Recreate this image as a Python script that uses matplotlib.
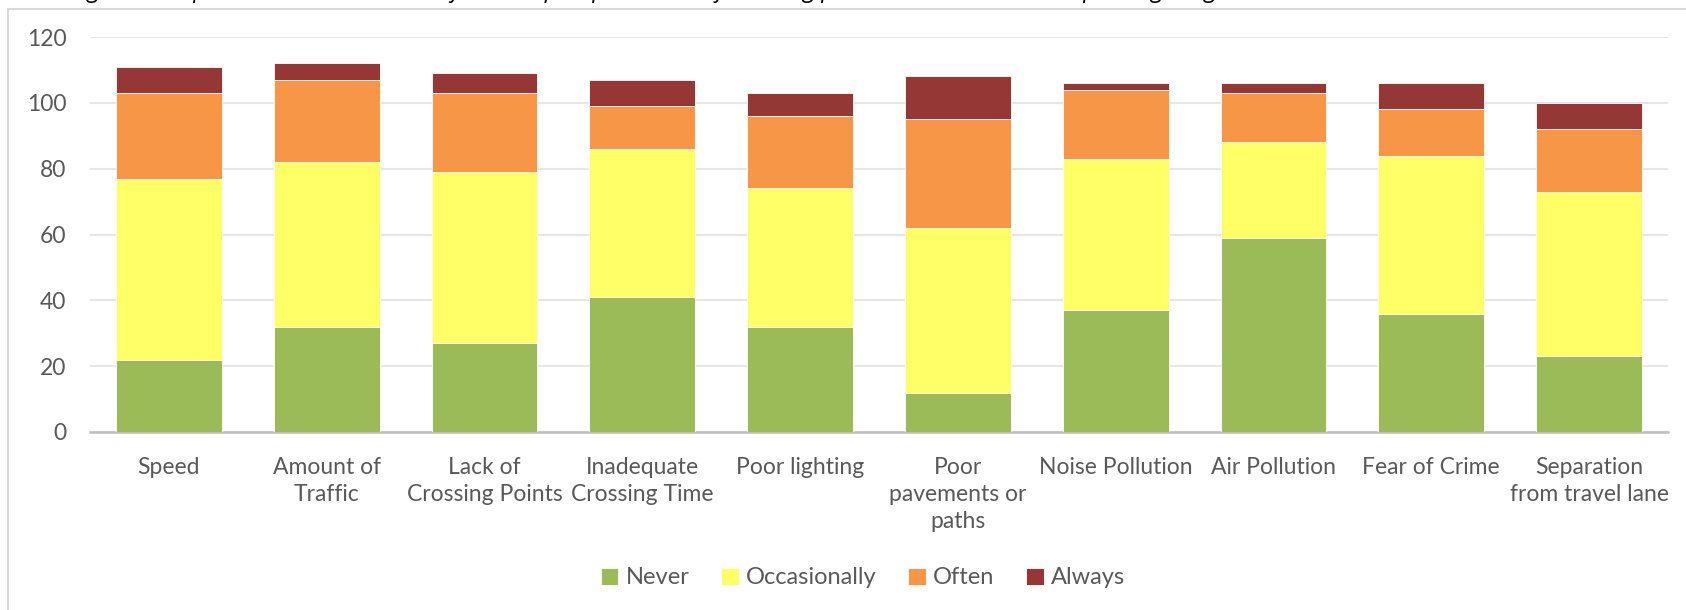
import numpy as np
import matplotlib.pyplot as plt
from matplotlib.patches import Rectangle

categories = [
    "Speed", "Amount of\nTraffic", "Lack of\nCrossing Points",
    "Inadequate\nCrossing Time", "Poor lighting", "Poor\npavements or\npaths",
    "Noise Pollution", "Air Pollution", "Fear of Crime",
    "Separation\nfrom travel lane",
]
never = [22, 32, 27, 41, 32, 12, 37, 59, 36, 23]
occasionally = [55, 50, 52, 45, 42, 50, 46, 29, 48, 50]
often = [26, 25, 24, 13, 22, 33, 21, 15, 14, 19]
always = [8, 5, 6, 8, 7, 13, 2, 3, 8, 8]

series = [
    ("Never", never, "#9BBB59"),
    ("Occasionally", occasionally, "#FFFF66"),
    ("Often", often, "#F79646"),
    ("Always", always, "#953735"),
]

plt.rcParams['font.family'] = ['Lato', 'DejaVu Sans']
grey = "#595959"

W, H = 1686, 610
fig = plt.figure(figsize=(W / 100, H / 100), dpi=100)

# outer chart frame and clipped caption above it
fig.patches.append(Rectangle((8 / W, -0.1), 1.2, 1 - 9 / H + 0.1, transform=fig.transFigure,
                             fill=False, edgecolor="#D9D9D9", linewidth=1.5))
fig.text(20 / W, 1 + 3 / H,
         "walking in other places in their locations, for example speed, lack of crossing points, "
         "air condition and poor lighting were rated",
         fontsize=17, style="italic", color="black", family="Open Sans", va="baseline")

ax = fig.add_axes([90 / W, 1 - 432 / H, 1578 / W, (432 - 37) / H])
x = np.arange(len(categories))
bottom = np.zeros(len(categories))
for name, vals, col in series:
    ax.bar(x, vals, 0.67, bottom=bottom, color=col, label=name,
           edgecolor="white", linewidth=0.6, zorder=3)
    bottom += np.array(vals)

ax.set_xlim(-0.5, len(categories) - 0.5)
ax.set_ylim(0, 120)
ax.set_yticks(range(0, 121, 20))
ax.yaxis.grid(True, color="#E6E6E6", linewidth=1.5, zorder=0)
ax.set_axisbelow(True)
for s in ["top", "right", "left"]:
    ax.spines[s].set_visible(False)
ax.spines["bottom"].set_color("#BFBFBF")
ax.spines["bottom"].set_linewidth(1.8)
ax.set_xticks(x)
ax.set_xticklabels(categories, fontsize=16.5, color=grey, linespacing=1.35)
ax.tick_params(axis="x", length=0, pad=18)
ax.tick_params(axis="y", length=0, pad=17, labelsize=16.5, labelcolor=grey)

fig.legend(loc="center", bbox_to_anchor=(863 / W, 1 - 578 / H), ncol=4, frameon=False,
           fontsize=17, labelcolor=grey, handlelength=0.75, handleheight=0.75,
           handletextpad=0.3, columnspacing=1.35)

fig.savefig("out.png", dpi=100)
